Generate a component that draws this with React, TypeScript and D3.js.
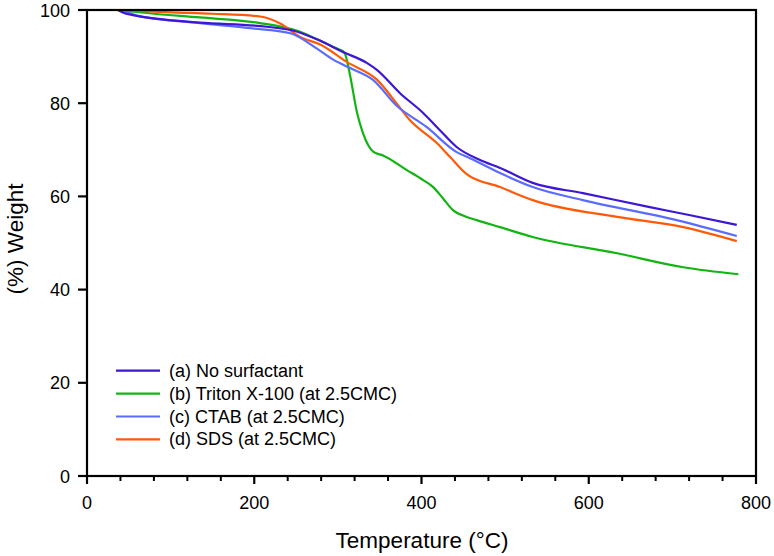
import React from "react";
import * as d3 from "d3";

const seriesNames = [
  "(a) No surfactant",
  "(b) Triton X-100 (at 2.5CMC)",
  "(c) CTAB (at 2.5CMC)",
  "(d) SDS (at 2.5CMC)",
];
const seriesColors = ["#3d16d6", "#12b412", "#5a6cff", "#ff5a08"];

const tempA = [37, 45, 55, 80, 135, 215, 246, 275, 306, 335, 347, 374, 402, 422, 442, 470, 494, 533, 593, 673, 720, 777];
const weightA = [100, 99.3, 98.9, 98.2, 97.3, 96.4, 95.6, 93.7, 91.0, 88.6, 87.1, 82.2, 77.9, 74.2, 70.6, 67.8, 66.1, 62.9, 60.7, 57.7, 56.0, 53.9];

const tempB = [37, 80, 135, 207, 255, 275, 295, 308, 314, 323, 330, 343, 354, 382, 402, 414, 426, 438, 454, 466, 494, 533, 634, 713, 779];
const weightB = [100, 99.2, 98.4, 97.2, 95.3, 93.7, 92.0, 90.8, 86.5, 77.9, 73.6, 69.5, 68.8, 65.7, 63.5, 62.0, 59.5, 57.0, 55.6, 54.9, 53.4, 51.3, 47.8, 44.8, 43.3];

const tempC = [37, 50, 60, 135, 195, 243, 275, 294, 314, 342, 370, 406, 442, 458, 494, 533, 593, 705, 777];
const weightC = [100, 99.4, 98.8, 97.2, 96.1, 95.0, 91.7, 89.4, 87.6, 85.0, 79.5, 74.9, 69.5, 68.2, 65.0, 62.0, 59.2, 54.9, 51.5];

const tempD = [37, 100, 150, 207, 231, 255, 280, 311, 347, 370, 386, 418, 434, 454, 494, 533, 634, 713, 777];
const weightD = [100, 99.5, 99.2, 98.6, 97.1, 94.2, 92.5, 88.8, 85.0, 80.0, 76.4, 71.5, 68.5, 64.8, 62.0, 59.2, 55.6, 53.4, 50.4];

const xMajorTicks = [0, 200, 400, 600, 800];
const xMinorTicks = [40, 80, 120, 160, 240, 280, 320, 360, 440, 480, 520, 560, 640, 680, 720, 760];
const yTicks = [0, 20, 40, 60, 80, 100];

const W = 774;
const H = 556;
const left = 87;
const right = 756;
const top = 10;
const bottom = 476;
const font = "'Liberation Sans', Arial, Helvetica, sans-serif";

export default function App() {
  const x = d3.scaleLinear().domain([0, 800]).range([left, right]);
  const y = d3.scaleLinear().domain([0, 100]).range([bottom, top]);
  const line = d3
    .line<[number, number]>()
    .x((d) => x(d[0]))
    .y((d) => y(d[1]))
    .curve(d3.curveMonotoneX);

  const temps = [tempA, tempB, tempC, tempD];
  const weights = [weightA, weightB, weightC, weightD];
  const drawOrder = [1, 3, 2, 0];

  return (
    <svg
      width={W}
      height={H}
      style={{ position: "absolute", left: 0, top: 0, background: "#fff" }}
      fontFamily={font}
    >
      <rect x={0} y={0} width={W} height={H} fill="#fff" />
      {drawOrder.map((i) => (
        <path
          key={i}
          d={line(temps[i].map((t, k) => [t, weights[i][k]] as [number, number])) || ""}
          fill="none"
          stroke={seriesColors[i]}
          strokeWidth={2.2}
          strokeLinejoin="round"
        />
      ))}
      {/* frame */}
      <rect x={left} y={top} width={right - left} height={bottom - top} fill="none" stroke="#000" strokeWidth={2.2} />
      {/* x ticks */}
      {xMajorTicks.map((t) => (
        <g key={"xm" + t}>
          <line x1={x(t)} x2={x(t)} y1={bottom} y2={bottom + 8} stroke="#000" strokeWidth={2.2} />
          <text x={x(t)} y={509} textAnchor="middle" fontSize={18} fill="#000">
            {t}
          </text>
        </g>
      ))}
      {xMinorTicks.map((t) => (
        <line key={"xn" + t} x1={x(t)} x2={x(t)} y1={bottom} y2={bottom + 5} stroke="#000" strokeWidth={2} />
      ))}
      {/* y ticks */}
      {yTicks.map((t) => (
        <g key={"y" + t}>
          <line x1={left - 9} x2={left} y1={y(t)} y2={y(t)} stroke="#000" strokeWidth={2.2} />
          <text x={70} y={y(t) + 6.5} textAnchor="end" fontSize={18} fill="#000">
            {t}
          </text>
        </g>
      ))}
      {/* axis titles */}
      <text x={422} y={548} textAnchor="middle" fontSize={22.5} fill="#000">
        Temperature (°C)
      </text>
      <text
        transform={`translate(23, 239) rotate(-90)`}
        textAnchor="middle"
        fontSize={22.5}
        fill="#000"
      >
        (%) Weight
      </text>
      {/* legend */}
      {seriesNames.map((name, i) => {
        const ly = 370.7 + i * 22.9;
        return (
          <g key={"lg" + i}>
            <line x1={116} x2={160} y1={ly} y2={ly} stroke={seriesColors[i]} strokeWidth={2.2} />
            <text x={169} y={ly + 6} fontSize={18} fill="#000">
              {name}
            </text>
          </g>
        );
      })}
    </svg>
  );
}
